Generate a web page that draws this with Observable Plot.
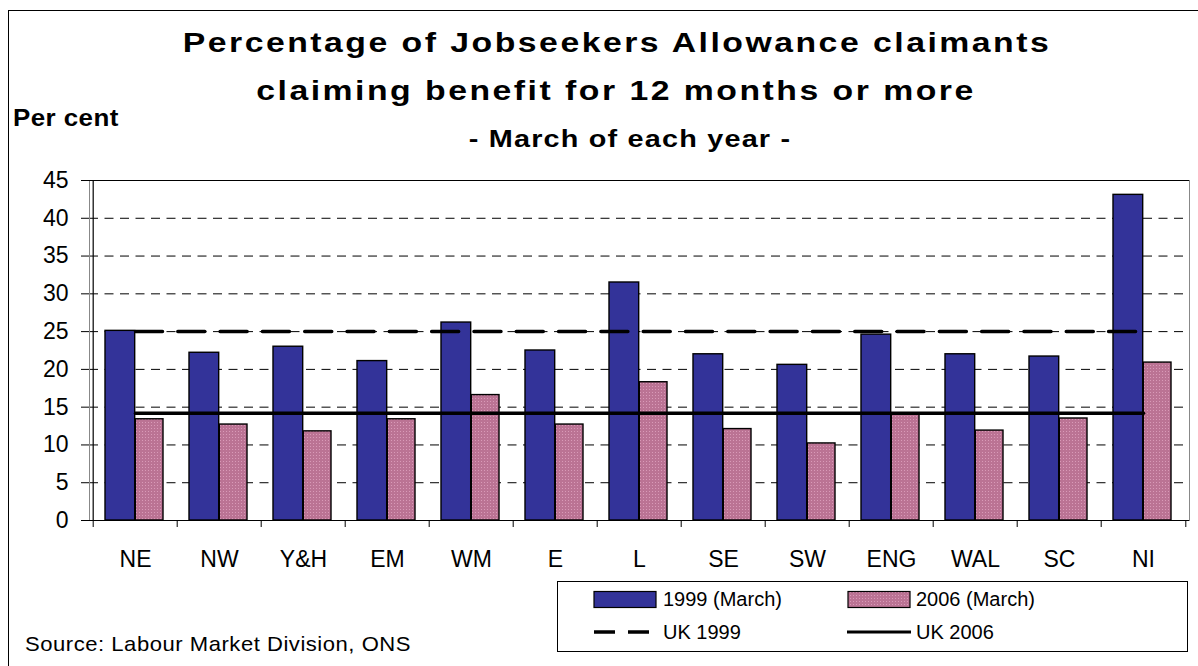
<!DOCTYPE html>
<html>
<head>
<meta charset="utf-8">
<script src="https://cdn.jsdelivr.net/npm/d3@7"></script>
<script src="https://cdn.jsdelivr.net/npm/@observablehq/plot@0.6"></script>
<style>
  html, body { margin: 0; padding: 0; background: #fff; overflow: hidden; }
  #page { position: relative; width: 1198px; height: 666px; overflow: hidden; font-family: "Liberation Sans", Arial, sans-serif; color: #000; }
  #outer { position: absolute; left: 8px; top: 10px; width: 1400px; height: 900px; border: 1.5px solid #000; box-sizing: border-box; pointer-events: none; }
  .t { position: absolute; white-space: nowrap; line-height: 1; }
  .c { transform-origin: center; }
  #chart { position: absolute; left: 0; top: 160px; }
  #legend { position: absolute; left: 557px; top: 581px; width: 631px; height: 71px; border: 1px solid #000; box-sizing: border-box; background: #fff; }
  #legend .lt { position: absolute; font-size: 20px; line-height: 24px; white-space: nowrap; }
  #legend svg { position: absolute; left: 0; top: 0; }
</style>
</head>
<body>
<div id="page">
  <div id="outer"></div>
  <div class="t c" id="title1" style="font-size:27px;font-weight:bold;letter-spacing:2px;left:617px;top:29.5px;transform:translateX(-50%) scaleX(1.25);">Percentage of Jobseekers Allowance claimants</div>
  <div class="t c" id="title2" style="font-size:27px;font-weight:bold;letter-spacing:2px;left:616px;top:77.5px;transform:translateX(-50%) scaleX(1.25);">claiming benefit for 12 months or more</div>
  <div class="t c" id="sub" style="font-size:24px;font-weight:bold;letter-spacing:1px;left:630px;top:126.7px;transform:translateX(-50%) scaleX(1.2);">- March of each year -</div>
  <div class="t" id="ylab" style="font-size:24px;font-weight:bold;letter-spacing:0.4px;left:13px;top:106.4px;transform-origin:left center;transform:scaleX(1.08);">Per cent</div>
  <div id="chart"></div>
  <div id="legend"></div>
  <div class="t" id="source" style="font-size:21px;letter-spacing:0.5px;left:25px;top:633px;transform-origin:left center;transform:scaleX(1.05);">Source: Labour Market Division, ONS</div>
</div>
<script>
// ---- data ----
const regions = ["NE", "NW", "Y&H", "EM", "WM", "E", "L", "SE", "SW", "ENG", "WAL", "SC", "NI"];
const values1999 = [25.1, 22.2, 23.0, 21.1, 26.2, 22.5, 31.5, 22.0, 20.6, 24.6, 22.0, 21.7, 43.1];
const values2006 = [13.4, 12.7, 11.8, 13.4, 16.6, 12.7, 18.3, 12.1, 10.2, 14.1, 11.9, 13.5, 20.9];
const uk1999 = 25.0;
const uk2006 = 14.2;
const yTicks = [0, 5, 10, 15, 20, 25, 30, 35, 40, 45];
const gridTicks = [5, 10, 15, 20, 25, 30, 35, 40];
const seriesNames = ["1999 (March)", "2006 (March)", "UK 1999", "UK 2006"];

const rows = regions.map((r, i) => ({region: r, v1999: values1999[i], v2006: values2006[i], uk1999, uk2006}));

// ---- layout ----
const W = 1198, H = 420, ML = 89, MR = 9, MT = 20, MB = 60;
const bw = (W - ML - MR) / regions.length;
const BLUE = "#333399";
const PINK = "url(#pinkdots)";

const svg = Plot.plot({
  width: W,
  height: H,
  marginLeft: ML,
  marginRight: MR,
  marginTop: MT,
  marginBottom: MB,
  style: {fontFamily: "'Liberation Sans', Arial, sans-serif", color: "#000", background: "transparent", overflow: "visible"},
  x: {type: "band", domain: regions, padding: 0, axis: null, label: null},
  y: {domain: [0, 45], axis: null, label: null},
  marks: [
    Plot.gridY(gridTicks, {stroke: "#000", strokeOpacity: 1, strokeWidth: 1, strokeDasharray: "9,6.5"}),
    Plot.barY(rows, {x: "region", y: "v1999", fill: BLUE, stroke: "#000", strokeWidth: 1.4, insetLeft: 12, insetRight: bw / 2}),
    Plot.barY(rows, {x: "region", y: "v2006", fill: PINK, stroke: "#000", strokeWidth: 1.4, insetLeft: bw / 2, insetRight: 14}),
    Plot.lineY(rows, {x: "region", y: "uk1999", stroke: "#000", strokeWidth: 3.5, strokeDasharray: `27,${bw / 2 - 27}`}),
    Plot.lineY(rows, {x: "region", y: "uk2006", stroke: "#000", strokeWidth: 3.5}),
    Plot.frame({stroke: "#888", strokeWidth: 1}),
    Plot.ruleY([45], {stroke: "#000", strokeWidth: 1}),
    Plot.ruleY([0], {stroke: "#000", strokeWidth: 1.2}),
    Plot.ruleX([regions[0]], {stroke: "#000", strokeWidth: 1.2, dx: -bw / 2}),
    Plot.axisY(yTicks, {tickSize: 8, tickPadding: 13, fontSize: 23, stroke: "#000", label: null}),
    Plot.axisX({tickSize: 0, tickPadding: 30, fontSize: 23, label: null}),
    Plot.axisX({tickSize: 7, tickFormat: () => "", dx: -bw / 2, stroke: "#000", label: null}),
    Plot.axisX([regions[regions.length - 1]], {tickSize: 7, tickFormat: () => "", dx: bw / 2, stroke: "#000", label: null})
  ]
});

// pink dotted texture pattern
const defs = d3.select(svg).insert("defs", ":first-child");
const pat = defs.append("pattern").attr("id", "pinkdots").attr("patternUnits", "userSpaceOnUse").attr("width", 3).attr("height", 3);
pat.append("rect").attr("width", 3).attr("height", 3).attr("fill", "#BB7394");
pat.append("rect").attr("x", 1).attr("y", 1).attr("width", 1).attr("height", 1).attr("fill", "#D99AB8");
document.getElementById("chart").appendChild(svg);

// ---- legend ----
const leg = d3.select("#legend");
const ls = leg.append("svg").attr("width", 631).attr("height", 71);
ls.append("rect").attr("x", 36).attr("y", 9.5).attr("width", 62).attr("height", 16).attr("fill", BLUE).attr("stroke", "#000").attr("stroke-width", 1.2);
ls.append("rect").attr("x", 290).attr("y", 9.5).attr("width", 62).attr("height", 16).attr("fill", PINK).attr("stroke", "#000").attr("stroke-width", 1.2);
ls.append("line").attr("x1", 36).attr("x2", 91).attr("y1", 50).attr("y2", 50).attr("stroke", "#000").attr("stroke-width", 3.5).attr("stroke-dasharray", "21,13");
ls.append("line").attr("x1", 289).attr("x2", 353).attr("y1", 50).attr("y2", 50).attr("stroke", "#000").attr("stroke-width", 3);
const pos = [[105, 17], [358, 17], [105, 50], [358, 50]];
seriesNames.forEach((name, i) => {
  leg.append("div").attr("class", "lt").style("left", pos[i][0] + "px").style("top", (pos[i][1] - 12) + "px").text(name);
});
</script>
</body>
</html>
